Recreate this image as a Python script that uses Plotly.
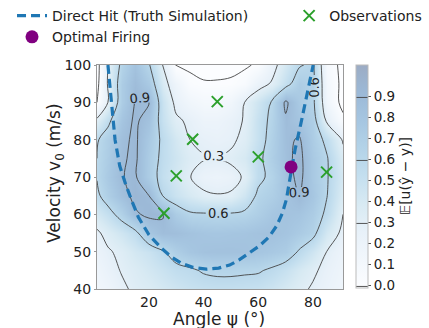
import plotly.graph_objects as go

# ---- data ----
angle = [1, 5, 10, 15, 20, 25, 30, 35, 40, 45, 50, 55, 60, 65, 70, 75, 80, 85, 91]
velocity = [40, 45, 50, 55, 60, 65, 70, 75, 80, 85, 90, 95, 100]

u_v40 = [0.14, 0.18, 0.27, 0.33, 0.36, 0.41, 0.45, 0.49, 0.51, 0.52, 0.52, 0.51, 0.50, 0.46, 0.40, 0.34, 0.28, 0.22, 0.16]
u_v45 = [0.17, 0.24, 0.31, 0.36, 0.42, 0.48, 0.54, 0.57, 0.62, 0.64, 0.64, 0.63, 0.62, 0.57, 0.50, 0.41, 0.33, 0.25, 0.18]
u_v50 = [0.22, 0.28, 0.34, 0.42, 0.48, 0.58, 0.70, 0.78, 0.82, 0.83, 0.83, 0.82, 0.79, 0.76, 0.72, 0.58, 0.45, 0.30, 0.20]
u_v55 = [0.27, 0.36, 0.45, 0.55, 0.78, 0.87, 0.86, 0.82, 0.79, 0.78, 0.79, 0.80, 0.82, 0.83, 0.80, 0.74, 0.66, 0.42, 0.26]
u_v60 = [0.42, 0.52, 0.68, 0.88, 0.93, 0.91, 0.72, 0.63, 0.62, 0.615, 0.62, 0.64, 0.70, 0.78, 0.82, 0.80, 0.72, 0.56, 0.30]
u_v65 = [0.56, 0.70, 0.84, 0.94, 0.90, 0.60, 0.48, 0.40, 0.33, 0.31, 0.32, 0.45, 0.64, 0.70, 0.80, 0.90, 0.78, 0.61, 0.36]
u_v70 = [0.61, 0.75, 0.895, 0.92, 0.72, 0.52, 0.42, 0.305, 0.23, 0.21, 0.24, 0.32, 0.55, 0.65, 0.82, 0.95, 0.75, 0.62, 0.40]
u_v75 = [0.60, 0.72, 0.88, 0.93, 0.72, 0.55, 0.45, 0.35, 0.31, 0.305, 0.33, 0.40, 0.55, 0.70, 0.85, 0.95, 0.75, 0.62, 0.36]
u_v80 = [0.58, 0.70, 0.86, 0.93, 0.75, 0.56, 0.42, 0.30, 0.27, 0.25, 0.27, 0.34, 0.50, 0.68, 0.86, 0.92, 0.72, 0.55, 0.28]
u_v85 = [0.35, 0.55, 0.80, 0.93, 0.82, 0.50, 0.33, 0.27, 0.20, 0.20, 0.25, 0.31, 0.50, 0.65, 0.88, 0.80, 0.70, 0.28, 0.04]
u_v90 = [0.00, 0.30, 0.72, 0.91, 0.90, 0.48, 0.25, 0.15, 0.10, 0.10, 0.15, 0.30, 0.45, 0.62, 0.93, 0.75, 0.65, 0.15, -0.05]
u_v95 = [-0.06, 0.32, 0.72, 0.88, 0.75, 0.38, 0.18, 0.03, 0.005, 0.005, 0.01, 0.06, 0.22, 0.32, 0.52, 0.72, 0.66, 0.12, -0.04]
u_v100 = [-0.08, 0.30, 0.65, 0.82, 0.62, 0.30, -0.02, -0.02, -0.02, -0.02, -0.02, -0.02, 0.02, 0.22, 0.42, 0.58, 0.64, 0.08, -0.04]
utility = [u_v40, u_v45, u_v50, u_v55, u_v60, u_v65, u_v70, u_v75,
           u_v80, u_v85, u_v90, u_v95, u_v100]

truth_angle = [5, 6.3, 7.6, 9.3, 11.5, 13.8, 16.1, 20, 24.6, 28.2, 31.9, 36, 41,
               45.5, 49.5, 53, 56.7, 60.5, 64, 66.8, 68.8, 70.3, 71.3, 72.3,
               73.5, 75.5, 77.8, 80.1]
truth_velocity = [100, 90, 80, 73, 68, 63.5, 59.3, 54.5, 50.9, 48.6, 46.9, 45.8, 45.3,
                  45.6, 46.4, 47.8, 49.6, 51.6, 54, 57, 60.3, 64, 68.3, 73,
                  77.5, 84, 92, 100]

obs_angle = [25.5, 30, 36, 45, 60, 85]
obs_velocity = [60.3, 70.3, 80.1, 90.2, 75.4, 71.3]

opt_angle = [72]
opt_velocity = [72.7]

cbar_ticks = [0.0, 0.1, 0.2, 0.3, 0.4, 0.5, 0.6, 0.7, 0.8, 0.9]
x_ticks = [20, 40, 60, 80]
y_ticks = [40, 50, 60, 70, 80, 90, 100]

# Blues colormap blended with white (alpha ~0.4)
blues_soft = [
    [0.0, "#fcfdff"], [0.125, "#f2f7fc"], [0.25, "#e8f1f9"], [0.375, "#d8eaf3"],
    [0.5, "#c4dfef"], [0.625, "#b3d3e8"], [0.75, "#a6c6e1"], [0.875, "#9cb9d7"],
    [1.0, "#9cacc4"],
]

FONT = "DejaVu Sans"
TXT = "#222222"

fig = go.Figure()

fig.add_trace(go.Contour(
    x=angle, y=velocity, z=utility,
    colorscale=blues_soft, zmin=-0.01, zmax=1.05, zauto=False,
    autocontour=False,
    contours=dict(start=0.0, end=0.9, size=0.3, coloring="heatmap",
                  showlabels=True,
                  labelfont=dict(family=FONT, size=13, color=TXT),
                  labelformat=".1f"),
    line=dict(color="#444444", width=0.9, smoothing=1.0),
    showlegend=False,
    hoverinfo="skip",
    colorbar=dict(
        x=(356 - 97) / 246, xanchor="left",
        y=(289 - 176) / 224, yanchor="middle",
        len=223, lenmode="pixels",
        thickness=12, ypad=0, xpad=0,
        outlinewidth=1, outlinecolor="#bbbbbb",
        tickvals=cbar_ticks, ticktext=[f"{t:.1f}" for t in cbar_ticks],
        ticks="outside", ticklen=3, tickcolor="#555555",
        tickfont=dict(family=FONT, size=13.5, color=TXT),
        title=dict(text="𝔼[u(ŷ − y)]", side="right",
                   font=dict(family=FONT, size=14, color=TXT)),
    ),
))

fig.add_trace(go.Scatter(
    x=truth_angle, y=truth_velocity, mode="lines",
    name="Direct Hit (Truth Simulation)",
    line=dict(color="#1f77b4", width=3.2, dash="9px,5px"),
    legend="legend",
))

fig.add_trace(go.Scatter(
    x=obs_angle, y=obs_velocity, mode="markers", name="Observations",
    marker=dict(symbol="x-thin", size=11, color="#2ca02c",
                line=dict(color="#2ca02c", width=2)),
    legend="legend2",
))

fig.add_trace(go.Scatter(
    x=opt_angle, y=opt_velocity, mode="markers", name="Optimal Firing",
    marker=dict(symbol="circle", size=13, color="#800080"),
    legend="legend",
))

fig.update_layout(
    width=429, height=328,
    margin=dict(l=97, r=86, t=65, b=39, autoexpand=False),
    paper_bgcolor="white", plot_bgcolor="white",
    font=dict(family=FONT, size=14, color=TXT),
    legend=dict(xref="container", yref="container", x=0.028, y=1.0,
                xanchor="left", yanchor="top", orientation="v",
                font=dict(family=FONT, size=14, color=TXT),
                bgcolor="rgba(0,0,0,0)", tracegroupgap=0),
    legend2=dict(xref="container", yref="container", x=0.674, y=1.0,
                 xanchor="left", yanchor="top", orientation="v",
                 font=dict(family=FONT, size=14, color=TXT),
                 bgcolor="rgba(0,0,0,0)"),
    xaxis=dict(
        range=[1, 91], tickvals=x_ticks,
        showline=True, linecolor="#999999", linewidth=1, mirror=True,
        ticks="",
        showgrid=False, zeroline=False,
        tickfont=dict(family=FONT, size=14, color=TXT),
    ),
    yaxis=dict(
        range=[40, 100], tickvals=y_ticks,
        showline=True, linecolor="#999999", linewidth=1, mirror=True,
        ticks="outside", ticklen=2, tickcolor="#999999",
        showgrid=False, zeroline=False,
        tickfont=dict(family=FONT, size=14, color=TXT),
    ),
    annotations=[
        dict(text="Angle ψ (°)", xref="paper", yref="paper",
             x=(219 - 97) / 246, y=(289 - 318.5) / 224,
             xanchor="center", yanchor="middle", showarrow=False,
             font=dict(family=FONT, size=17, color=TXT)),
        dict(text="Velocity v<sub>0</sub> (m/s)", xref="paper", yref="paper",
             x=(55 - 97) / 246, y=(289 - 173) / 224, textangle=-90,
             xanchor="center", yanchor="middle", showarrow=False,
             font=dict(family=FONT, size=17, color=TXT)),
    ],
)

fig.write_html("out.html",
               config={"displayModeBar": False},
               post_script="document.body.style.margin='0px';")
